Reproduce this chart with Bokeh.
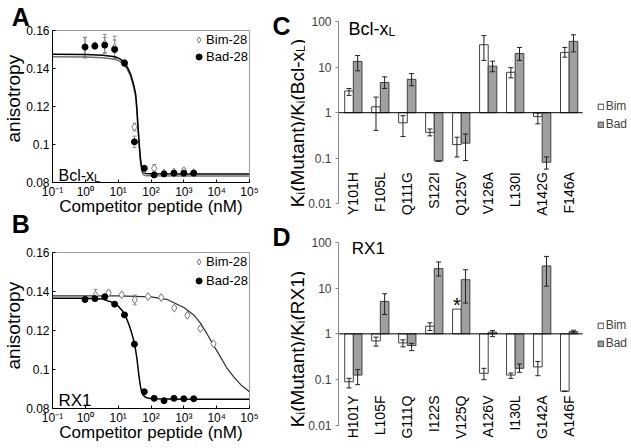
import math
from bokeh.plotting import figure
from bokeh.layouts import row, column
from bokeh.models import (Range1d, FixedTicker, CustomJSTickFormatter, Label, Legend,
                          LegendItem, Whisker, TeeHead, ColumnDataSource, Title)
from bokeh.core.properties import value
from bokeh.embed import file_html
from bokeh.resources import INLINE

FONT = "Liberation Sans"

# ---------------- panels A and B: competition titrations ----------------
conc_ticks = [0.1, 1, 10, 100, 1000, 10000, 100000]
conc_tick_labels = ["10\u207b\u00b9", "10\u2070", "10\u00b9", "10\u00b2", "10\u00b3", "10\u2074", "10\u2075"]
aniso_ticks = [0.08, 0.10, 0.12, 0.14, 0.16]
aniso_tick_labels = ["0.08", "0.1", "0.12", "0.14", "0.16"]

conc_2fold = [0.98, 1.95, 3.9, 7.8, 15.6, 31.3, 62.5, 125, 250, 500, 1000, 2000]
conc_bim_rx1 = [2.05, 5.1, 12.8, 32, 82, 205, 512, 1280, 3200, 8000]

a_bim = [0.1510, 0.1520, 0.1530, 0.1510, 0.1430, 0.1092, 0.0870, 0.0875, 0.0850, 0.0855, 0.0862, 0.0852]
a_bim_err = [0.0055, 0.0015, 0.0050, 0.0060, 0.0015, 0.0020, 0.0010, 0.0020, 0.0010, 0.0010, 0.0012, 0.0010]
a_bad = [0.1513, 0.1518, 0.1523, 0.1500, 0.1428, 0.1014, 0.0875, 0.0840, 0.0845, 0.0849, 0.0849, 0.0849]
a_bad_err = [0.0050, 0.0010, 0.0040, 0.0050, 0.0015, 0.0030, 0.0010, 0.0010, 0.0008, 0.0008, 0.0008, 0.0008]

a_fit_conc = [0.1, 1, 3.4, 8, 11, 13.5, 16, 20, 24, 28, 31, 34, 36, 38, 40, 43, 46, 48, 52, 56, 62, 70, 100, 1000, 100000]
a_fit_bad = [0.1475, 0.1474, 0.1470, 0.1462, 0.1452, 0.1440, 0.1428, 0.1400, 0.1370, 0.1330, 0.1300,
             0.1265, 0.1220, 0.1163, 0.1100, 0.1022, 0.0955, 0.0920, 0.0878, 0.0858, 0.0851, 0.0848,
             0.0846, 0.0845, 0.0845]
a_fit_bim = [0.1462, 0.1461, 0.1457, 0.1449, 0.1439, 0.1427, 0.1415, 0.1388, 0.1358, 0.1318, 0.1288,
             0.1253, 0.1208, 0.1152, 0.1090, 0.1012, 0.0945, 0.0910, 0.0866, 0.0846, 0.0839, 0.0836,
             0.0835, 0.0834, 0.0834]

b_bim = [0.1381, 0.1393, 0.1383, 0.1357, 0.1374, 0.1369, 0.1315, 0.1278, 0.1210, 0.1132]
b_bim_err = [0.0030, 0.0012, 0.0010, 0.0025, 0.0010, 0.0010, 0.0008, 0.0008, 0.0008, 0.0008]
b_bad = [0.1359, 0.1364, 0.1373, 0.1335, 0.1280, 0.1130, 0.0886, 0.0852, 0.0840, 0.0852, 0.0850, 0.0850]
b_bad_err = [0.0008, 0.0008, 0.0008, 0.0008, 0.0008, 0.0008, 0.0008, 0.0008, 0.0008, 0.0008, 0.0008, 0.0008]

b_fit_bad_conc = [0.1, 1, 3.4, 6.8, 10, 13.5, 17, 21, 25, 30, 34, 38, 42, 45, 48, 51, 58, 68, 85, 107, 1000, 100000]
b_fit_bad = [0.1366, 0.1365, 0.1361, 0.1344, 0.1325, 0.1301, 0.1272, 0.1233, 0.1195, 0.1147, 0.1100,
             0.1045, 0.0980, 0.0942, 0.0912, 0.0890, 0.0868, 0.0858, 0.0852, 0.0850, 0.0848, 0.0848]
b_fit_bim_conc = [0.1, 10, 100, 300, 1000, 2000, 3200, 5000, 8000, 12000, 20000, 34000, 54000, 100000]
b_fit_bim = [0.1378, 0.1378, 0.1372, 0.1360, 0.1318, 0.1280, 0.1238, 0.1185, 0.1125, 0.1075, 0.1010,
             0.0960, 0.0922, 0.0886]

# ---------------- panels C and D: Ki ratios ----------------
ratio_ticks = [0.01, 0.1, 1, 10, 100]
ratio_tick_labels = ["0.01", "0.1", "1", "10", "100"]

c_mutants = ["Y101H", "F105L", "Q111G", "S122I", "Q125V", "V126A", "L130I", "A142G", "F146A"]
c_bim = [3.0, 1.35, 0.60, 0.37, 0.20, 31, 7.7, 0.82, 21]
c_bim_lo = [2.4, 0.41, 0.30, 0.31, 0.107, 14, 5.8, 0.57, 16.5]
c_bim_hi = [3.4, 2.2, 0.86, 0.44, 0.29, 49, 9.7, 0.98, 27]
c_bad = [13.3, 4.6, 5.4, 0.087, 0.215, 10.5, 19.8, 0.082, 36.7]
c_bad_lo = [8.3, 3.4, 3.9, 0.087, 0.089, 7.9, 14, 0.058, 21.6]
c_bad_hi = [17.9, 6.1, 7.2, 0.087, 0.34, 13.5, 27, 0.107, 51]

d_mutants = ["H101Y", "L105F", "G111Q", "I122S", "V125Q", "A126V", "I130L", "G142A", "A146F"]
d_bim = [0.090, 0.70, 0.635, 1.47, 3.47, 0.138, 0.126, 0.19, 0.056]
d_bim_lo = [0.066, 0.54, 0.52, 1.18, None, 0.10, 0.107, 0.122, 0.056]
d_bim_hi = [0.107, 0.85, 0.74, 1.74, None, 0.177, 0.14, 0.25, 0.056]
d_bad = [0.126, 5.1, 0.555, 26.5, 15.2, 1.09, 0.177, 30.3, 1.12]
d_bad_lo = [0.078, 2.65, 0.43, 18.3, 4.7, 0.87, 0.145, 11, 1.05]
d_bad_hi = [0.166, 7.5, 0.62, 37, 25, 1.18, 0.22, 49, 1.2]
d_starred_bim = ["V125Q"]

# approximate Arial / Liberation Sans advance widths (em) for composing sub-scripted labels
ADV = {"K": .667, "i": .222, "(": .333, "M": .833, "u": .556, "t": .278, "a": .556, "n": .556,
       ")": .333, "/": .278, "B": .667, "c": .5, "l": .222, "-": .333, "x": .5, "L": .556,
       "R": .722, "X": .667, "1": .556}


def fmt(tick_values, tick_texts):
    return CustomJSTickFormatter(args=dict(tv=tick_values, tl=tick_texts), code="""
        for (let i = 0; i < tv.length; i++) {
            if (Math.abs(Math.log10(tv[i]) - Math.log10(tick)) < 1e-6) { return tl[i] }
        }
        return ""
    """)


def label(p, text, x, y, size, angle=0.0, align="left", bold=False, color="black"):
    p.add_layout(Label(x=x, y=y, x_units="screen", y_units="screen", text=text, angle=angle,
                       text_align=align, text_baseline="alphabetic", text_font=FONT,
                       text_font_size=f"{size}px",
                       text_font_style="bold" if bold else "normal", text_color=color))


def rich_label(p, pieces, x0, y0, main, sub, drop, vertical=False, color="black"):
    pos = 0.0
    for txt, is_sub in pieces:
        size = sub if is_sub else main
        if vertical:
            label(p, txt, x0 + (drop if is_sub else 0), y0 + pos, size, angle=math.pi / 2, color=color)
        else:
            label(p, txt, x0 + pos, y0 - (drop if is_sub else 0), size, color=color)
        pos += sum(ADV[ch] for ch in txt) * size


def whisker(p, xs, lo, hi, color, head, level):
    keep = [i for i in range(len(xs)) if lo[i] is not None]
    src = ColumnDataSource(dict(x=[xs[i] for i in keep], lo=[lo[i] for i in keep],
                                hi=[hi[i] for i in keep]))
    p.add_layout(Whisker(source=src, base="x", lower="lo", upper="hi", level=level,
                         line_color=color, line_width=1,
                         upper_head=TeeHead(size=head, line_color=color, line_width=1),
                         lower_head=TeeHead(size=head, line_color=color, line_width=1)))


def strip(width, height):
    s = figure(width=width, height=height, x_range=Range1d(0, 1), y_range=Range1d(0, 1),
               x_axis_location=None, y_axis_location=None, output_backend="svg",
               toolbar_location=None, title=None, min_border=0, outline_line_color=None,
               background_fill_color="white", border_fill_color="white")
    s.grid.visible = False
    return s


def letter_title(text, vertical_align, standoff):
    return Title(text=text, align="left", offset=-40.7, standoff=standoff, vertical_align=vertical_align,
                 text_font=FONT, text_font_size="25px", text_font_style="bold", text_color="black")


def titration_panel(height, top, bottom, xlabel_standoff, ytitle_offset):
    p = figure(width=270, height=height, x_axis_type="log",
               x_range=Range1d(conc_ticks[0], conc_ticks[-1]),
               y_range=Range1d(aniso_ticks[0], aniso_ticks[-1]),
               output_backend="svg", toolbar_location=None, title=None,
               min_border_left=49, min_border_right=21, min_border_top=top, min_border_bottom=bottom,
               background_fill_color="white", border_fill_color="white",
               outline_line_color="#9a9a9a")
    p.grid.visible = False
    xa, ya = p.xaxis[0], p.yaxis[0]
    xa.ticker = FixedTicker(ticks=conc_ticks)
    xa.formatter = fmt(conc_ticks, conc_tick_labels)
    ya.ticker = FixedTicker(ticks=aniso_ticks)
    ya.formatter = fmt(aniso_ticks, aniso_tick_labels)
    for ax in (xa, ya):
        ax.axis_line_color = "black"
        ax.major_tick_line_color = "black"
        ax.major_tick_in = 3
        ax.major_tick_out = 0
        ax.minor_tick_line_color = None
        ax.major_label_text_font = FONT
        ax.major_label_text_font_size = "12px"
        ax.major_label_text_color = "black"
    xa.major_label_standoff = 2
    ya.major_label_standoff = 3
    xa.axis_label = "Competitor peptide (nM)"
    xa.axis_label_text_font = FONT
    xa.axis_label_text_font_size = "17px"
    xa.axis_label_text_font_style = "normal"
    xa.axis_label_text_color = "black"
    xa.axis_label_standoff = xlabel_standoff
    p.add_layout(Title(text="anisotropy", align="left", offset=ytitle_offset, standoff=0,
                       text_font=FONT, text_font_size="19px", text_font_style="normal",
                       text_color="black"), "left")
    return p


def titration_legend(p, r_bim, r_bad, spacing):
    p.add_layout(Legend(items=[LegendItem(label=value("Bim-28"), renderers=[r_bim]),
                               LegendItem(label=value("Bad-28"), renderers=[r_bad])],
                        location="top_right", glyph_width=15, glyph_height=17, label_standoff=0,
                        label_height=17, spacing=spacing, padding=0, margin=1,
                        label_text_font=FONT, label_text_font_size="13px", label_text_color="black",
                        border_line_color=None, background_fill_alpha=0))


# ---------- A (panel letter "B" sits in A's lower border, under its axis title) ----------
pA = titration_panel(246, 29, 64, -5, 40)
pA.add_layout(letter_title("A", "bottom", 0), "above")
pA.add_layout(letter_title("B", "top", -18), "below")
whisker(pA, conc_2fold, [v - e for v, e in zip(a_bim, a_bim_err)],
        [v + e for v, e in zip(a_bim, a_bim_err)], "#8c8c8c", 4, "underlay")
whisker(pA, conc_2fold, [v - e for v, e in zip(a_bad, a_bad_err)],
        [v + e for v, e in zip(a_bad, a_bad_err)], "#8c8c8c", 4, "underlay")
pA.line(a_fit_conc, a_fit_bim, line_color="#707070", line_width=1.5)
pA.line(a_fit_conc, a_fit_bad, line_color="black", line_width=1.5)
rA_bim = pA.scatter(conc_2fold, a_bim, marker="diamond", size=8, fill_color="white",
                    line_color="#7a7a7a", line_width=1)
rA_bad = pA.scatter(conc_2fold, a_bad, marker="circle", size=6, fill_color="black", line_color="black")
titration_legend(pA, rA_bim, rA_bad, 0)
rich_label(pA, [("Bcl-x", False), ("L", True)], 6, 7, 16, 11, 2.5)

# ---------- B ----------
pB = titration_panel(202, 6, 40, -5, 39)
whisker(pB, conc_bim_rx1, [v - e for v, e in zip(b_bim, b_bim_err)],
        [v + e for v, e in zip(b_bim, b_bim_err)], "#8c8c8c", 4, "underlay")
whisker(pB, conc_2fold, [v - e for v, e in zip(b_bad, b_bad_err)],
        [v + e for v, e in zip(b_bad, b_bad_err)], "#8c8c8c", 4, "underlay")
pB.line(b_fit_bim_conc, b_fit_bim, line_color="#303030", line_width=1.2)
pB.line(b_fit_bad_conc, b_fit_bad, line_color="black", line_width=1.5)
rB_bim = pB.scatter(conc_bim_rx1, b_bim, marker="diamond", size=8, fill_color="white",
                    line_color="#7a7a7a", line_width=1)
rB_bad = pB.scatter(conc_2fold, b_bad, marker="circle", size=6, fill_color="black", line_color="black")
titration_legend(pB, rB_bim, rB_bad, 2)
label(pB, "RX1", 6, 8, 17)


def mutant_panel(height, y_range, mutants, bim, bim_lo, bim_hi, bad, bad_lo, bad_hi,
                 label_offset, legend_vy):
    x_start = -0.05
    p = figure(width=326, height=height, y_axis_type="log",
               x_range=Range1d(x_start, x_start + 295 / 27.16), y_range=y_range,
               x_axis_location=None, output_backend="svg", toolbar_location=None, title=None,
               min_border_left=31, min_border_right=0, min_border_top=0, min_border_bottom=0,
               background_fill_color="white", border_fill_color="white", outline_line_color=None)
    p.grid.visible = False
    ya = p.yaxis[0]
    ya.ticker = FixedTicker(ticks=ratio_ticks)
    ya.formatter = fmt(ratio_ticks, ratio_tick_labels)
    ya.bounds = (ratio_ticks[0], ratio_ticks[-1])
    ya.axis_line_color = "#868686"
    ya.major_tick_line_color = "#868686"
    ya.major_tick_in = 0
    ya.major_tick_out = 3
    ya.minor_tick_line_color = None
    ya.major_label_standoff = 4
    ya.major_label_text_font = FONT
    ya.major_label_text_font_size = "12px"
    ya.major_label_text_color = "#404040"

    xc = [i + 0.5 for i in range(len(mutants))]
    x_bim = [x - 0.16 for x in xc]
    x_bad = [x + 0.16 for x in xc]
    r_bim = p.vbar(x=x_bim, bottom=1, top=bim, width=0.32, fill_color="white",
                   line_color="#404040", line_width=1)
    r_bad = p.vbar(x=x_bad, bottom=1, top=bad, width=0.32, fill_color="#a0a0a0",
                   line_color="#404040", line_width=1)
    p.segment(x0=[x_start], y0=[1], x1=[len(mutants)], y1=[1], line_color="black", line_width=1)
    whisker(p, x_bim, bim_lo, bim_hi, "#202020", 5, "annotation")
    whisker(p, x_bad, bad_lo, bad_hi, "#202020", 5, "annotation")
    p.text(x=xc, y=[ratio_ticks[0]] * len(mutants), text=mutants, angle=math.pi / 2,
           text_align="right", text_baseline="middle", y_offset=label_offset,
           text_font=value(FONT), text_font_size=value("14px"), text_color="black")
    p.add_layout(Legend(items=[LegendItem(label=value("Bim"), renderers=[r_bim]),
                               LegendItem(label=value("Bad"), renderers=[r_bad])],
                        location=(258.7, legend_vy), glyph_width=7, glyph_height=7, label_standoff=2,
                        label_height=14, spacing=4, padding=0, margin=0,
                        label_text_font=FONT, label_text_font_size="12px", label_text_color="#404040",
                        border_line_color=None, background_fill_alpha=0))
    return p, x_bim


# ---------- C ----------
sC = strip(35, 217)
label(sC, "C", 2, 192, 25, bold=True)
rich_label(sC, [("K", False), ("i", True), ("(Mutant)/K", False), ("i", True), ("(Bcl-x", False),
                ("L", True), (")", False)], 27.3, 10.3, 19, 12, 3.5, vertical=True)
pC, _ = mutant_panel(217, Range1d(0.00503, 288.7), c_mutants, c_bim, c_bim_lo, c_bim_hi,
                     c_bad, c_bad_lo, c_bad_hi, -31.7, 86)
rich_label(pC, [("Bcl-x", False), ("L", True)], 10, 188.7, 18, 12, 3)

# ---------- D ----------
sD = strip(35, 231)
label(sD, "D", 2, 211.3, 25, bold=True)
rich_label(sD, [("K", False), ("i", True), ("(Mutant)/K", False), ("i", True), ("(RX1)", False)],
           27.3, 21.3, 19, 12, 3.5, vertical=True)
pD, d_x_bim = mutant_panel(231, Range1d(0.00315, 346), d_mutants, d_bim, d_bim_lo, d_bim_hi,
                           d_bad, d_bad_lo, d_bad_hi, -30, 97.6)
star_idx = [d_mutants.index(m) for m in d_starred_bim]
pD.text(x=[d_x_bim[i] for i in star_idx], y=[d_bim[i] for i in star_idx], text=["*"] * len(star_idx),
        text_align="center", text_baseline="alphabetic", y_offset=-4,
        text_font=value(FONT), text_font_size=value("20px"), text_color="black")
label(pD, "RX1", 13.3, 200.3, 17)

left = column(pA, pB)
right = row(column(sC, sD), column(pC, pD))
layout = row(left, right)
open("out.html", "w").write(file_html(layout, INLINE))
